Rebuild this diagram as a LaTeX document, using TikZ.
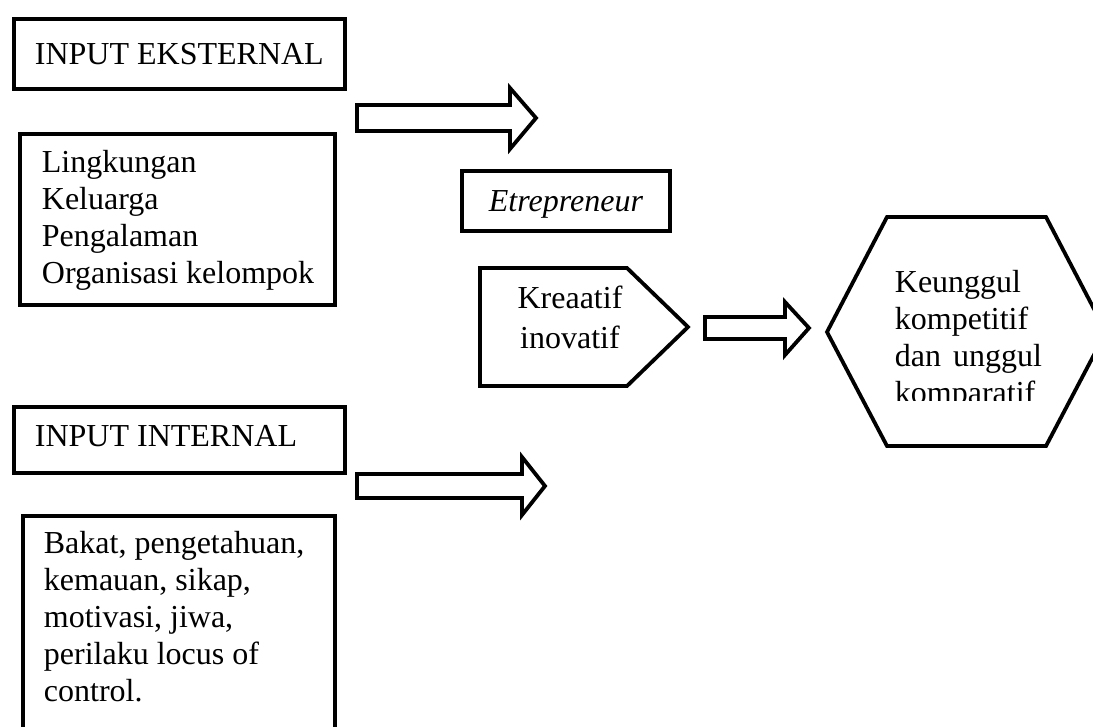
\documentclass[tikz,border=0pt]{standalone}
\usepackage{fontspec}
\setmainfont{Liberation Serif}
\begin{document}
\begin{tikzpicture}[x=1pt,y=-1pt,
  line width=3.8pt,
  box/.style={draw, inner sep=0pt, anchor=north west},
  txt/.style={inner sep=0pt, anchor=base west, align=left, font=\fontsize{32}{37}\selectfont},
  blockarrow/.style={draw, line join=miter, miter limit=10},
  shapeline/.style={draw, line join=miter, miter limit=10}]
\useasboundingbox (0,0) rectangle (1093,726);
\fill[white] (0,0) rectangle (1093,726);
\clip (0,0) rectangle (1093,726);

% boxes
\node[box, minimum width=331pt, minimum height=70pt] (ext) at (12,17) {};
\node[box, minimum width=315pt, minimum height=171pt] (extlist) at (18,132) {};
\node[box, minimum width=208pt, minimum height=60pt] (etr) at (460,169) {};
\node[box, minimum width=331pt, minimum height=66pt] (int) at (12,405) {};
\node[box, minimum width=312pt, minimum height=246pt] (intlist) at (21,514) {};

% texts (anchor base = baseline of the last line)
\node[txt] (extT) at (33,64) {INPUT EKSTERNAL};
\node[txt] (extlistT) at (40,283) {Lingkungan\\Keluarga\\Pengalaman\\Organisasi kelompok};
\node[txt, font=\fontsize{32}{37}\selectfont\itshape] (etrT) at (487,211) {Etrepreneur};
\node[txt] (intT) at (33,446) {INPUT INTERNAL};
\node[txt] (intlistT) at (42,701) {Bakat, pengetahuan,\\kemauan, sikap,\\motivasi, jiwa,\\perilaku locus of\\control.};

% pentagon
\draw[shapeline] (480,268) -- (627,268) -- (688,327) -- (627,386) -- (480,386) -- cycle;
\node[txt, anchor=base, align=center, font=\fontsize{32}{40}\selectfont] (kreT) at (570,348) {Kreaatif\\inovatif};

% hexagon
\draw[shapeline] (827,332) -- (887,217) -- (1046,217) -- (1106,332) -- (1046,446) -- (887,446) -- cycle;
\begin{scope}
\clip (880,220) rectangle (1093,400);
\node[txt, font=\fontsize{32}{36.7}\selectfont] (hexT) at (893,403) {Keunggul\\kompetitif\\dan\hspace{12pt}unggul\\komparatif};
\end{scope}

% block arrows
\draw[blockarrow] (357,105) -- (510,105) -- (510,88) -- (536,118) -- (510,149) -- (510,131) -- (357,131) -- cycle;
\draw[blockarrow] (705,317) -- (785,317) -- (785,302) -- (809,328) -- (785,355) -- (785,339) -- (705,339) -- cycle;
\draw[blockarrow] (357,474) -- (522,474) -- (522,457) -- (545,486) -- (522,515) -- (522,498) -- (357,498) -- cycle;
\end{tikzpicture}
\end{document}
